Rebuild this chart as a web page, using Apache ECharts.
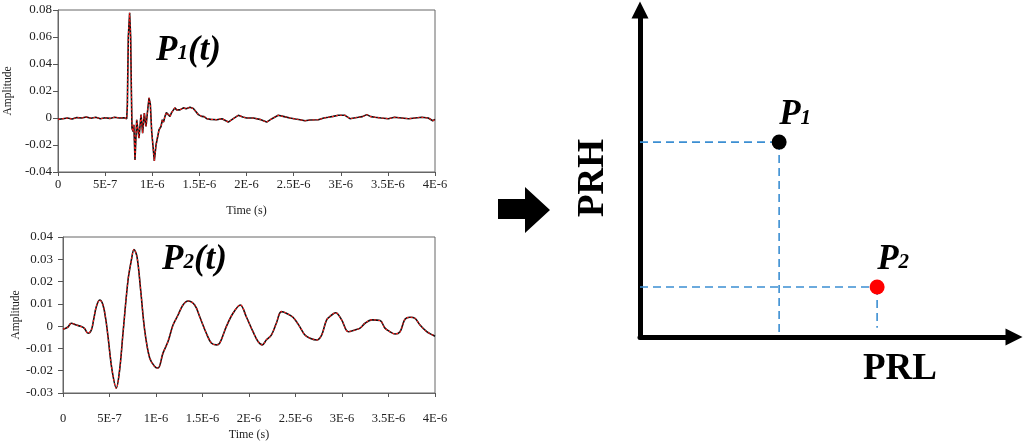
<!DOCTYPE html>
<html>
<head>
<meta charset="utf-8">
<script src="https://cdn.jsdelivr.net/npm/echarts@6/dist/echarts.min.js"></script>
<style>html,body{margin:0;padding:0;background:#fff}#c{width:1024px;height:445px}</style>
</head>
<body>
<div id="c"></div>
<script>
// ---- data (time in microseconds, amplitude) ----
var timeTickLabels = ['0','5E-7','1E-6','1.5E-6','2E-6','2.5E-6','3E-6','3.5E-6','4E-6'];
var p1Wave = [[0,-0.001],[0.05,-0.0005],[0.1,0],[0.15,-0.0008],[0.2,0.0003],[0.25,0],[0.3,0.0008],[0.35,-0.0002],[0.4,0.0005],[0.45,-0.0005],[0.5,0.0002],[0.55,-0.0003],[0.6,0.0006],[0.65,0],[0.7,0.0002],[0.729,-0.0005],[0.736,0.010],[0.746,0.060],[0.760,0.078],[0.771,0.060],[0.778,0.022],[0.785,-0.0075],[0.796,-0.010],[0.805,-0.005],[0.817,-0.031],[0.835,-0.0013],[0.859,-0.0149],[0.881,0.0025],[0.898,-0.0112],[0.916,0.0037],[0.934,-0.0063],[0.950,0.005],[0.966,0.0149],[0.980,0.010],[0.994,-0.010],[1.022,-0.0318],[1.040,-0.020],[1.072,-0.0087],[1.093,-0.0063],[1.107,-0.0013],[1.120,-0.003],[1.135,0.0012],[1.150,0.004],[1.164,0.0037],[1.188,0.0012],[1.205,0.004],[1.223,0.005],[1.240,0.0075],[1.259,0.006],[1.294,0.006],[1.33,0.0075],[1.36,0.0068],[1.40,0.0079],[1.436,0.007],[1.46,0.005],[1.489,0.0025],[1.524,0.0012],[1.55,0.001],[1.578,-0.0005],[1.62,-0.001],[1.684,-0.0013],[1.74,-0.0005],[1.807,-0.003],[1.86,-0.0005],[1.913,0.002],[1.96,0.0008],[2.002,0],[2.073,0],[2.14,-0.001],[2.214,-0.003],[2.27,-0.0005],[2.337,0.002],[2.40,0.001],[2.461,0],[2.52,-0.0008],[2.568,-0.0013],[2.621,-0.002],[2.674,-0.0015],[2.762,-0.0013],[2.82,0],[2.868,0.0005],[2.92,0.0012],[2.974,0.002],[3.045,0.002],[3.098,-0.0005],[3.14,0],[3.186,0.0005],[3.23,0.001],[3.275,0.0025],[3.32,0.001],[3.363,0.0005],[3.43,0],[3.505,-0.0005],[3.57,0.0005],[3.646,0],[3.72,-0.0005],[3.788,0],[3.86,0.0005],[3.929,0],[3.976,-0.002],[4.0,-0.001]];
var p2Wave = [[0,-0.0014],[0.05,-0.0005],[0.089,0.0013],[0.143,0.0005],[0.197,-0.0002],[0.23,-0.001],[0.269,-0.0032],[0.305,-0.0017],[0.33,0.003],[0.358,0.0087],[0.394,0.0117],[0.430,0.0095],[0.46,0.003],[0.484,-0.0047],[0.527,-0.0196],[0.573,-0.0278],[0.609,-0.0196],[0.645,-0.0032],[0.699,0.0206],[0.735,0.0296],[0.763,0.0344],[0.796,0.0311],[0.835,0.0162],[0.878,-0.0017],[0.932,-0.0143],[0.986,-0.0181],[1.022,-0.0188],[1.075,-0.0121],[1.129,-0.0069],[1.183,0.0005],[1.237,0.005],[1.290,0.0095],[1.344,0.0113],[1.416,0.0095],[1.470,0.0042],[1.541,-0.0032],[1.595,-0.0076],[1.649,-0.0084],[1.685,-0.0076],[1.756,-0.0002],[1.828,0.0058],[1.907,0.0095],[1.971,0.0042],[2.043,-0.0025],[2.097,-0.0069],[2.143,-0.0084],[2.186,-0.0062],[2.240,-0.004],[2.294,0.0013],[2.348,0.0065],[2.401,0.0058],[2.473,0.004],[2.545,-0.0002],[2.602,-0.004],[2.656,-0.0054],[2.728,-0.0062],[2.781,-0.004],[2.835,0.0028],[2.889,0.005],[2.932,0.006],[2.996,0.0028],[3.068,-0.0025],[3.140,-0.0017],[3.194,-0.0009],[3.247,0.0013],[3.319,0.0028],[3.409,0.0025],[3.462,-0.0009],[3.516,-0.0025],[3.570,-0.0035],[3.624,-0.0025],[3.677,0.0031],[3.731,0.004],[3.785,0.0035],[3.839,0.0005],[3.911,-0.0025],[3.975,-0.004],[4.0,-0.0045]];
// schematic points on the PRL / PRH plane
var pointNames = ['P1','P2'];
var prl = [3.72, 6.34];
var prh = [5.96, 1.53];
var dropEnd = [0, 0.28];

var serif = '"Liberation Serif","Times New Roman",serif';
var chart = echarts.init(document.getElementById('c'));

function waveX(gi, labelMargin, nameGap) {
  return {
    gridIndex: gi, type: 'value', min: 0, max: 4, interval: 0.5,
    name: 'Time (s)', nameLocation: 'middle', nameGap: nameGap,
    nameTextStyle: {fontFamily: serif, fontSize: 12, color: '#222'},
    axisLine: {show: true, onZero: false, lineStyle: {color: '#666', width: 1}},
    axisTick: {show: true, length: 4, lineStyle: {color: '#555'}},
    axisLabel: {margin: labelMargin, fontFamily: serif, fontSize: 12.5, color: '#222',
      formatter: function (v) { return timeTickLabels[Math.round(v / 0.5)]; }},
    splitLine: {show: false}
  };
}
function waveY(gi, min, max, itv, labelMargin, nameGap) {
  return {
    gridIndex: gi, type: 'value', min: min, max: max, interval: itv,
    name: 'Amplitude', nameLocation: 'middle', nameGap: nameGap, nameRotate: 90,
    nameTextStyle: {fontFamily: serif, fontSize: 11.5, color: '#222'},
    axisLine: {show: true, lineStyle: {color: '#666', width: 1}},
    axisTick: {show: true, length: 5, lineStyle: {color: '#555'}},
    axisLabel: {margin: labelMargin, fontFamily: serif, fontSize: 13, color: '#222',
      formatter: function (v) { return String(Math.round(v * 1000) / 1000); }},
    splitLine: {show: false}
  };
}
function waveSeries(gi, data, smooth) {
  return [
    {type: 'line', xAxisIndex: gi, yAxisIndex: gi, data: data, showSymbol: false, silent: true, smooth: smooth,
     lineStyle: {color: '#111', width: 1.6}, z: 2},
    {type: 'line', xAxisIndex: gi, yAxisIndex: gi, data: data, showSymbol: false, silent: true, smooth: smooth,
     lineStyle: {color: '#ff1a1a', width: 1.1, type: [2, 2]}, z: 3}
  ];
}

var hLines = [], vLines = [];
for (var i = 0; i < pointNames.length; i++) {
  hLines.push([[0, prh[i]], [prl[i], prh[i]]]);
  vLines.push([[prl[i], prh[i]], [prl[i], dropEnd[i]]]);
}
var dashSeries = [];
hLines.concat(vLines).forEach(function (seg) {
  dashSeries.push({type: 'line', xAxisIndex: 2, yAxisIndex: 2, data: seg, showSymbol: false, silent: true,
    lineStyle: {color: '#3b8ed2', width: 1.6, type: [8, 5]}, z: 2});
});

var pointColors = ['#000000', '#ff0000'];
var scatterData = pointNames.map(function (n, i) {
  return {value: [prl[i], prh[i]], name: n, itemStyle: {color: pointColors[i], opacity: 1},
    label: {formatter: '{p|P}{s|' + n.slice(1) + '}'}};
});

var subRich = {
  p: {fontFamily: serif, fontStyle: 'italic', fontWeight: 'bold', fontSize: 35, color: '#000', lineHeight: 36},
  s: {fontFamily: serif, fontStyle: 'italic', fontWeight: 'bold', fontSize: 21, color: '#000', lineHeight: 36, verticalAlign: 'bottom', padding: [0, 0, 4, 0]}
};

var option = {
  animation: false,
  backgroundColor: '#fff',
  grid: [
    {left: 58, top: 10, width: 377, height: 162, show: true, borderColor: '#666', borderWidth: 1, backgroundColor: 'transparent'},
    {left: 63, top: 237, width: 372, height: 156, show: true, borderColor: '#666', borderWidth: 1, backgroundColor: 'transparent'},
    {left: 640, top: 10, width: 374, height: 327}
  ],
  xAxis: [
    waveX(0, 6, 33),
    waveX(1, 19, 36),
    {gridIndex: 2, type: 'value', min: 0, max: 10,
     axisLine: {show: true, onZero: false, symbol: ['none', 'triangle'], symbolSize: [17, 17], lineStyle: {color: '#000', width: 5}},
     axisTick: {show: false}, axisLabel: {show: false}, splitLine: {show: false}}
  ],
  yAxis: [
    waveY(0, -0.04, 0.08, 0.02, 6, 44),
    waveY(1, -0.03, 0.04, 0.01, 10, 41),
    {gridIndex: 2, type: 'value', min: 0, max: 10,
     axisLine: {show: true, onZero: false, symbol: ['none', 'triangle'], symbolSize: [17, 17], lineStyle: {color: '#000', width: 5}},
     axisTick: {show: false}, axisLabel: {show: false}, splitLine: {show: false}}
  ],
  series: waveSeries(0, p1Wave, false).concat(waveSeries(1, p2Wave, 0.35)).concat(dashSeries).concat([
    {type: 'scatter', xAxisIndex: 2, yAxisIndex: 2, symbolSize: 15, data: scatterData, z: 5,
     itemStyle: {opacity: 1},
     label: {show: true, position: 'top', distance: 2, offset: [16, 0], color: '#000', rich: subRich}}
  ]),
  graphic: [
    {type: 'text', left: 156, top: 33, style: {text: '{p|P}{s|1}{p|(t)}', rich: subRich}},
    {type: 'text', left: 162, top: 242, style: {text: '{p|P}{s|2}{p|(t)}', rich: subRich}},
    {type: 'text', x: 900, y: 369, style: {text: 'PRL', font: 'bold 37px ' + serif, fill: '#000', align: 'center', verticalAlign: 'middle'}},
    {type: 'text', x: 593, y: 178, rotation: Math.PI / 2, style: {text: 'PRH', font: 'bold 37px ' + serif, fill: '#000', align: 'center', verticalAlign: 'middle'}},
    {type: 'polygon', shape: {points: [[498, 199], [525, 199], [525, 187], [550, 210], [525, 233], [525, 219], [498, 219]]}, style: {fill: '#000'}}
  ]
};
chart.setOption(option);
</script>
</body>
</html>
